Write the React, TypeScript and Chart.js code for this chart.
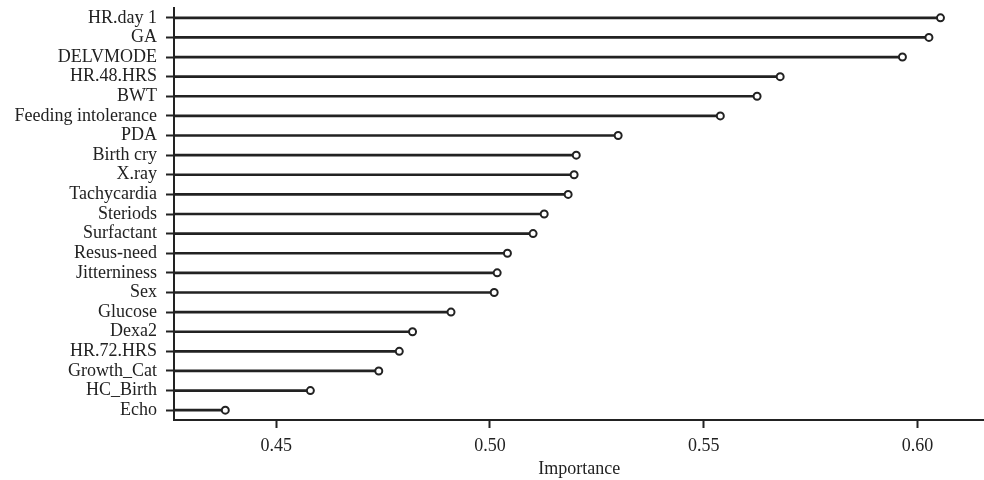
import React, { useEffect, useRef } from "react";
import { Chart, registerables } from "chart.js";

Chart.register(...registerables);

const features: string[] = [
  "HR.day 1", "GA", "DELVMODE", "HR.48.HRS", "BWT", "Feeding intolerance", "PDA",
  "Birth cry", "X.ray", "Tachycardia", "Steriods", "Surfactant", "Resus-need",
  "Jitterniness", "Sex", "Glucose", "Dexa2", "HR.72.HRS", "Growth_Cat", "HC_Birth", "Echo",
];

const importance: number[] = [
  0.6054, 0.6027, 0.5965, 0.5679, 0.5625, 0.5539, 0.5300,
  0.5202, 0.5197, 0.5183, 0.5127, 0.5101, 0.5041,
  0.5017, 0.5010, 0.4909, 0.4819, 0.4788, 0.4740, 0.4580, 0.4381,
];

const xTicks: number[] = [0.45, 0.5, 0.55, 0.6];
const xMin = 0.4261;
const xMax = 0.6157;
const xTitle = "Importance";

const INK = "#222222";
const FONT = { family: "'Liberation Serif', 'Times New Roman', serif", size: 18 };

export default function App() {
  const canvasRef = useRef<HTMLCanvasElement | null>(null);

  useEffect(() => {
    document.body.style.margin = "0";
    const canvas = canvasRef.current;
    if (!canvas) return;
    const chart = new Chart(canvas, {
      type: "bar",
      data: {
        labels: features,
        datasets: [
          {
            type: "line",
            label: "points",
            data: importance,
            showLine: false,
            pointRadius: 3.5,
            pointHoverRadius: 3.5,
            pointBorderWidth: 2,
            pointBackgroundColor: "#ffffff",
            pointBorderColor: INK,
            borderColor: INK,
            backgroundColor: "#ffffff",
            order: 0,
          } as any,
          {
            type: "bar",
            label: "stems",
            data: importance,
            base: xMin,
            barThickness: 2,
            backgroundColor: INK,
            borderWidth: 0,
            order: 1,
          } as any,
        ],
      },
      options: {
        indexAxis: "y",
        responsive: false,
        animation: false,
        devicePixelRatio: 1,
        layout: { padding: { top: 8, left: 0, right: 0, bottom: 0 } },
        plugins: {
          legend: { display: false },
          tooltip: { enabled: false },
        },
        scales: {
          x: {
            type: "linear",
            min: xMin,
            max: xMax,
            afterBuildTicks: (scale: any) => {
              scale.ticks = xTicks.map((v) => ({ value: v }));
            },
            afterFit: (scale: any) => {
              scale.height = 60;
              scale.paddingLeft = 0;
              scale.paddingRight = 0;
            },
            grid: {
              drawOnChartArea: false,
              drawTicks: true,
              tickLength: 8,
              tickWidth: 2,
              tickColor: INK,
            },
            border: { display: true, color: INK, width: 2 },
            ticks: {
              color: INK,
              font: FONT,
              padding: 7,
              maxRotation: 0,
              autoSkip: false,
              callback: (v: any) => Number(v).toFixed(2),
            },
            title: {
              display: true,
              text: xTitle,
              color: INK,
              font: FONT,
              padding: { top: 0, bottom: 0 },
            },
          },
          y: {
            type: "category",
            offset: true,
            afterFit: (scale: any) => {
              scale.width = 174;
              scale.paddingTop = 0;
              scale.paddingBottom = 0;
            },
            grid: {
              offset: false,
              drawOnChartArea: false,
              drawTicks: true,
              tickLength: 8,
              tickWidth: 2,
              tickColor: INK,
            },
            border: { display: true, color: INK, width: 2 },
            ticks: {
              color: INK,
              font: FONT,
              padding: 9,
              autoSkip: false,
            },
          },
        },
      } as any,
    });
    return () => chart.destroy();
  }, []);

  return (
    <div style={{ position: "absolute", left: 0, top: 0, width: 984, height: 480, overflow: "hidden", background: "#fff" }}>
      <canvas ref={canvasRef} width={990} height={480} />
    </div>
  );
}
